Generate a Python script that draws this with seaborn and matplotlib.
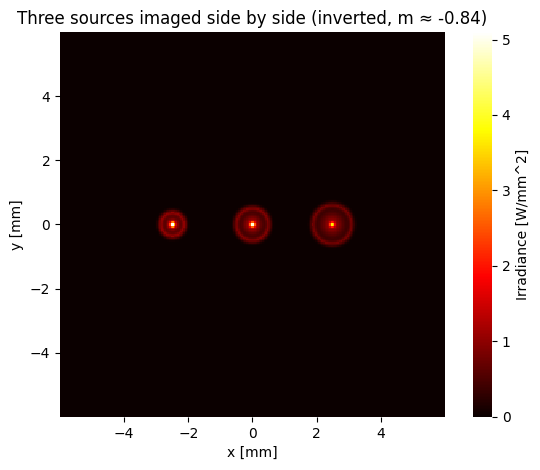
import numpy as np
import matplotlib
matplotlib.use("Agg")
import matplotlib.pyplot as plt
import seaborn as sns

# source parameters
src_x = [-2.5, 0.0, 2.5]          # mm
src_y = [0.0, 0.0, 0.0]
ring_r = [0.38, 0.52, 0.62]       # mm
core_peak = [5.1, 4.6, 3.0]       # W/mm^2
halo_level = [1.0, 0.8, 0.6]
ring_level = [0.8, 0.7, 0.6]
xticks = [-4, -2, 0, 2, 4]
yticks = [-4, -2, 0, 2, 4]
half = 6.0
N = 240

c = np.linspace(-half, half, N)
X, Y = np.meshgrid(c, c)
I = np.zeros_like(X)
for x0, y0, r, pk, h, rl in zip(src_x, src_y, ring_r, core_peak, halo_level, ring_level):
    d = np.hypot(X - x0, Y - y0)
    I += pk * np.exp(-(d / 0.07) ** 2)
    I += h * np.exp(-(d / (0.5 * r)) ** 2)
    I += rl * np.exp(-((d - r) / 0.09) ** 2)
    I += 0.4 * np.clip(1 - d / r, 0, 1) + 0.2 * (d < r)

fig = plt.figure(figsize=(5.4, 4.7), dpi=100)
ax = fig.add_axes([0.111, 0.113, 0.713, 0.819])
cax = fig.add_axes([0.876, 0.113, 0.035, 0.819])
sns.heatmap(I[::-1], ax=ax, cbar_ax=cax, cmap="hot", vmin=0, vmax=5.1, square=True,
            xticklabels=False, yticklabels=False,
            cbar_kws={"label": "Irradiance [W/mm^2]", "ticks": [0, 1, 2, 3, 4, 5]})
to_px = lambda v: (v + half) / (2 * half) * N
ax.set_xticks([to_px(v) for v in xticks])
ax.set_xticklabels([str(v).replace("-", "\u2212") for v in xticks])
ax.set_yticks([N - to_px(v) for v in yticks])
ax.set_yticklabels([str(v).replace("-", "\u2212") for v in yticks], rotation=0)
ax.tick_params(length=3.5)
cax.tick_params(length=3.5)
ax.set_xlabel("x [mm]")
ax.set_ylabel("y [mm]")
ax.set_title("Three sources imaged side by side (inverted, m \u2248 -0.84)")
fig.savefig("out.png", dpi=100)
